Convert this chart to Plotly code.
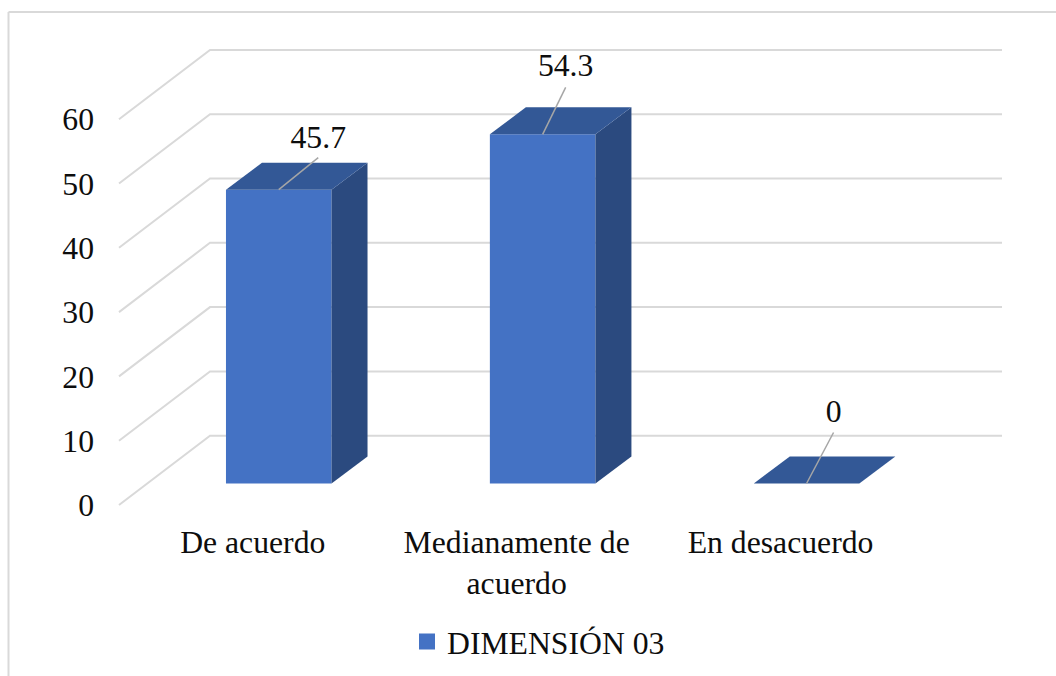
import plotly.graph_objects as go

# Survey results for the third dimension
categories = ["De acuerdo", "Medianamente de<br>acuerdo", "En desacuerdo"]
values = [45.7, 54.3, 0]
y_ticks = [0, 10, 20, 30, 40, 50, 60]
series_name = "DIMENSIÓN 03"

WIDTH, HEIGHT = 1056, 676
PX_PER_CATEGORY = 263.9
PX_PER_UNIT = 6.43
BAR_WIDTH = 0.4

# Pixel rows of the value 0 on the three depth planes of the pseudo-3D box
FRONT_ZERO = 505.0
BAR_ZERO = 483.5
WALL_ZERO = 435.7
CATEGORY_ZERO_PX = 278.75

# Bar depth, and the box's depth, in axis units
BAR_DX = 36 / PX_PER_CATEGORY
BAR_DY = 27 / PX_PER_UNIT
WALL_DY = (FRONT_ZERO - WALL_ZERO) / PX_PER_UNIT


def cat_at(px):
    return (px - CATEGORY_ZERO_PX) / PX_PER_CATEGORY


FLOOR_LEFT = cat_at(119)
WALL_LEFT = cat_at(210)
WALL_RIGHT = cat_at(1002)

FRONT_COLOR = "#4472C4"
TOP_COLOR = "#335896"
SIDE_COLOR = "#2B4A7F"
GRID_COLOR = "#D9D9D9"
LEADER_COLOR = "#A6A6A6"
FONT = dict(family="Liberation Serif", size=31.7, color="#0d0d0d")

# Leader-line tips and label centres, relative to each bar's top front edge
leader_dx = [39.5 / PX_PER_CATEGORY, 23 / PX_PER_CATEGORY, 27 / PX_PER_CATEGORY]
leader_dy = [32 / PX_PER_UNIT, 47 / PX_PER_UNIT, 51 / PX_PER_UNIT]
label_dy = [50 / PX_PER_UNIT, 66 / PX_PER_UNIT, 69 / PX_PER_UNIT]

positions = list(range(len(categories)))
fig = go.Figure()

# Wall gridlines and their floor-to-wall diagonals, on the front-plane axis
for tick in y_ticks:
    fig.add_trace(go.Scatter(
        x=[FLOOR_LEFT, WALL_LEFT, WALL_RIGHT],
        y=[tick, tick + WALL_DY, tick + WALL_DY],
        mode="lines", line=dict(color=GRID_COLOR, width=2),
        showlegend=False, hoverinfo="skip", xaxis="x", yaxis="y",
    ))

# Front faces
fig.add_trace(go.Bar(
    x=positions, y=values, width=BAR_WIDTH,
    marker=dict(color=FRONT_COLOR, line=dict(width=0)),
    showlegend=False, xaxis="x", yaxis="y2",
))

# Side and top faces
for pos, val in zip(positions, values):
    left, right = pos - BAR_WIDTH / 2, pos + BAR_WIDTH / 2
    if val > 0:
        fig.add_trace(go.Scatter(
            x=[right, right + BAR_DX, right + BAR_DX, right, right],
            y=[0, BAR_DY, val + BAR_DY, val, 0],
            mode="lines", fill="toself", fillcolor=SIDE_COLOR, line=dict(width=0),
            showlegend=False, hoverinfo="skip", xaxis="x", yaxis="y2",
        ))
    fig.add_trace(go.Scatter(
        x=[left, left + BAR_DX, right + BAR_DX, right, left],
        y=[val, val + BAR_DY, val + BAR_DY, val, val],
        mode="lines", fill="toself", fillcolor=TOP_COLOR, line=dict(width=0),
        showlegend=False, hoverinfo="skip", xaxis="x", yaxis="y2",
    ))

# Leader lines and value labels
for pos, val, ldx, ldy, tdy in zip(positions, values, leader_dx, leader_dy, label_dy):
    fig.add_trace(go.Scatter(
        x=[pos, pos + ldx], y=[val, val + ldy],
        mode="lines", line=dict(color=LEADER_COLOR, width=1.5),
        showlegend=False, hoverinfo="skip", xaxis="x", yaxis="y2",
    ))
    fig.add_trace(go.Scatter(
        x=[pos + ldx], y=[val + tdy], text=[f"{val:g}"],
        mode="text", textposition="middle center", textfont=FONT,
        showlegend=False, hoverinfo="skip", xaxis="x", yaxis="y2",
    ))

# Legend entry
fig.add_trace(go.Scatter(
    x=[None], y=[None], name=series_name, mode="markers",
    marker=dict(symbol="square", size=16, color=FRONT_COLOR),
    xaxis="x", yaxis="y2",
))

fig.update_layout(
    width=WIDTH, height=HEIGHT,
    margin=dict(l=0, r=0, t=0, b=0),
    paper_bgcolor="white", plot_bgcolor="rgba(0,0,0,0)",
    font=FONT,
    showlegend=True,
    legend=dict(
        orientation="h", x=407 / WIDTH, xanchor="left",
        y=1 - 642 / HEIGHT, yanchor="middle",
        font=FONT, bgcolor="rgba(0,0,0,0)",
    ),
    xaxis=dict(
        range=[cat_at(0), cat_at(WIDTH)], domain=[0, 1],
        tickmode="array", tickvals=positions, ticktext=categories,
        ticks="", showgrid=False, zeroline=False, showline=False,
        anchor="free", position=1 - 520 / HEIGHT,
        ticklabelshift=-26, tickfont=FONT,
    ),
    yaxis=dict(
        range=[(FRONT_ZERO - HEIGHT) / PX_PER_UNIT, FRONT_ZERO / PX_PER_UNIT],
        domain=[0, 1],
        tickmode="array", tickvals=y_ticks,
        ticks="", showgrid=False, zeroline=False, showline=False,
        anchor="free", position=94 / WIDTH, side="left", tickfont=FONT,
    ),
    yaxis2=dict(
        range=[(BAR_ZERO - HEIGHT) / PX_PER_UNIT, BAR_ZERO / PX_PER_UNIT],
        domain=[0, 1], overlaying="y", anchor="x",
        showticklabels=False, ticks="", showgrid=False, zeroline=False, showline=False,
    ),
    shapes=[
        dict(type="line", xref="paper", yref="paper",
             x0=8.5 / WIDTH, x1=8.5 / WIDTH, y0=0, y1=1 - 12 / HEIGHT,
             line=dict(color=GRID_COLOR, width=2)),
        dict(type="line", xref="paper", yref="paper",
             x0=8.5 / WIDTH, x1=1, y0=1 - 12 / HEIGHT, y1=1 - 12 / HEIGHT,
             line=dict(color=GRID_COLOR, width=2)),
    ],
)

fig.write_html("out.html")
